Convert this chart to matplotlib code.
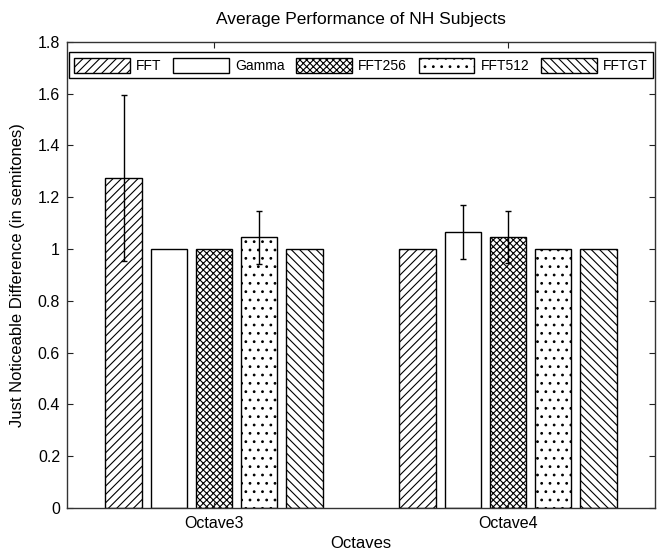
import matplotlib
matplotlib.use("Agg")
import matplotlib.pyplot as plt
import numpy as np

plt.rcParams['font.family'] = ['Liberation Sans', 'DejaVu Sans']
plt.rcParams['hatch.linewidth'] = 0.8

groups = ['Octave3', 'Octave4']
methods = ['FFT', 'Gamma', 'FFT256', 'FFT512', 'FFTGT']
hatches = ['////', '', 'xxxxx', '..', '\\\\\\\\']

# mean JND per method, one entry per octave
means = {
    'FFT':    [1.275, 1.0],
    'Gamma':  [1.0, 1.065],
    'FFT256': [1.0, 1.045],
    'FFT512': [1.045, 1.0],
    'FFTGT':  [1.0, 1.0],
}
errs = {
    'FFT':    [0.32, 0.0],
    'Gamma':  [0.0, 0.103],
    'FFT256': [0.0, 0.10],
    'FFT512': [0.103, 0.0],
    'FFTGT':  [0.0, 0.0],
}

fig = plt.figure(figsize=(6.57, 5.55), dpi=100)
ax = fig.add_axes([67 / 657, 47 / 555, 588 / 657, 466.3 / 555])

x = np.arange(1, len(groups) + 1)
n = len(methods)
group_w = min(0.8, n / (n + 1.5))
pitch = group_w / n
bar_w = 0.8 * pitch

for i, m in enumerate(methods):
    pos = x - group_w / 2 + pitch * (i + 0.5)
    ax.bar(pos, means[m], bar_w, color='white', edgecolor='black',
           linewidth=1.0, hatch=hatches[i], label=m)
    e = np.array(errs[m])
    keep = e > 0
    if keep.any():
        ax.errorbar(pos[keep], np.array(means[m])[keep], yerr=e[keep],
                    fmt='none', ecolor='black', elinewidth=1.0,
                    capsize=2.3, capthick=1.0)

ax.set_xlim(0.5, 2.5)
ax.set_ylim(0, 1.8)
ax.set_xticks(x)
ax.set_xticklabels(groups)
ax.set_yticks(np.arange(0, 1.81, 0.2))
ax.set_yticklabels(['0', '0.2', '0.4', '0.6', '0.8', '1', '1.2', '1.4', '1.6', '1.8'])
ax.tick_params(direction='in', top=True, right=True, length=4,
               labelsize=11.5, colors='#222222', labelcolor='black', pad=5)
ax.tick_params(axis='x', pad=6)
for s in ax.spines.values():
    s.set_color('#333333')
    s.set_linewidth(1.0)

ax.set_title('Average Performance of NH Subjects', fontsize=12.5, pad=13)
ax.set_xlabel('Octaves', fontsize=12, labelpad=3)
ax.set_ylabel('Just Noticeable Difference (in semitones)', fontsize=12, labelpad=9)

leg = ax.legend(ncol=5, loc='upper center', bbox_to_anchor=(0.5, 0.978),
                borderaxespad=0, fontsize=10,
                handlelength=4.0, handleheight=1.3, handletextpad=0.45,
                columnspacing=0.85, fancybox=False, framealpha=1,
                edgecolor='black', borderpad=0.4)
leg.get_frame().set_linewidth(1.0)

fig.savefig('out.png', dpi=100)
